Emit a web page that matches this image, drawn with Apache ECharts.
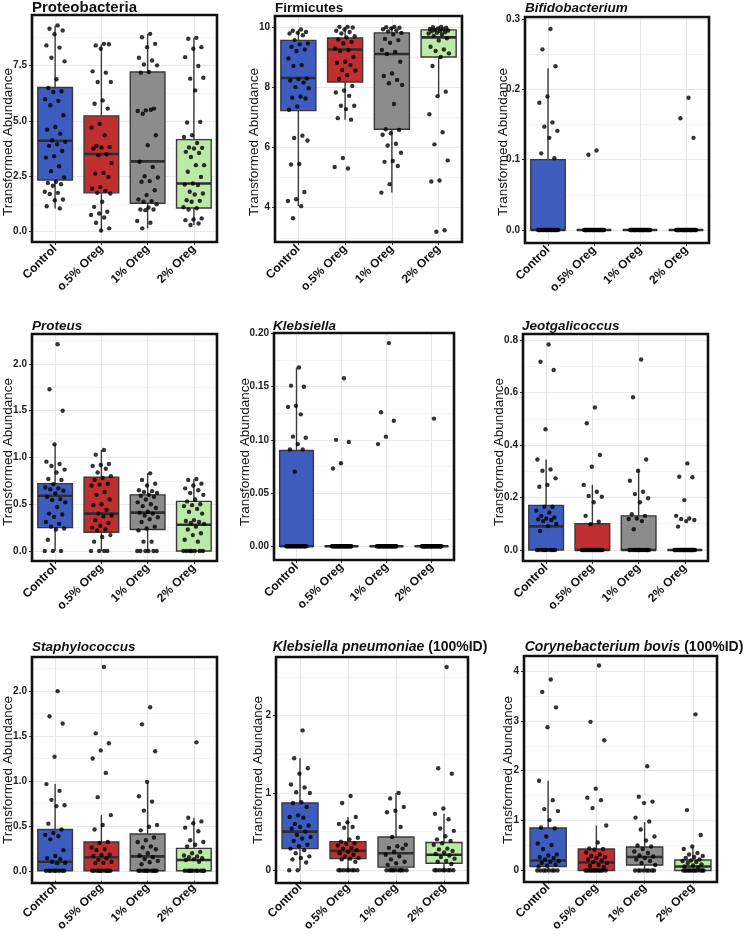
<!DOCTYPE html>
<html>
<head>
<meta charset="utf-8">
<script src="https://cdn.jsdelivr.net/npm/echarts@6/dist/echarts.min.js"></script>
<style>
html,body{margin:0;padding:0;background:#fff;}
#chart{width:745px;height:934px;}
</style>
</head>
<body>
<div id="chart"></div>
<script>
// ---------- DATA ----------
const categories = ['Control', 'o.5% Oreg', '1% Oreg', '2% Oreg'];

// box stats per group: [lower whisker, Q1, median, Q3, upper whisker]
const proteobacteriaBox = [[1.05, 2.33, 4.1, 6.5, 9.3], [0, 1.75, 3.5, 5.22, 8.45], [0.15, 1.28, 3.17, 7.2, 8.92], [0.3, 1.07, 2.17, 4.15, 8.74]];
const proteobacteriaPts = [
  [9.3, 9.15, 9.07, 8.9, 8.4, 8.3, 7.84, 7.68, 6.87, 6.48, 6.33, 6.3, 5.97, 5.9, 5.7, 5.25, 4.72, 4.6, 4.42, 4.12, 4.05, 3.94, 3.87, 3.64, 3.4, 3.34, 2.95, 2.73, 2.44, 2.25, 2.2, 2.14, 2.07, 1.8, 1.75, 1.7, 1.45, 1.42, 1.15, 1.05],
  [8.47, 8.4, 8.45, 8.25, 7.23, 7.17, 6.75, 6.75, 5.92, 5.77, 5.55, 4.87, 4.69, 4.35, 3.87, 3.82, 3.8, 3.75, 3.49, 3.45, 3.1, 2.65, 2.62, 2.47, 2.02, 1.95, 1.84, 1.75, 1.72, 1.35, 1.12, 0.9, 0.82, 0.75, 0.64, 0.4, 0.15, 0.05],
  [8.92, 8.77, 8.47, 8.32, 7.84, 7.72, 7.54, 7.5, 7.2, 7.17, 5.55, 5.47, 5.44, 5.5, 5.32, 4.35, 3.9, 3.15, 2.92, 2.5, 2.44, 2.28, 2.25, 1.87, 1.65, 1.45, 1.38, 1.35, 1.24, 1.09, 1.0, 1.0, 0.97, 0.48, 0.4, 0.15],
  [8.74, 8.7, 8.32, 8.25, 7.87, 7.47, 6.9, 6.94, 6.37, 4.92, 4.95, 4.35, 4.27, 4.0, 3.8, 3.78, 3.75, 3.6, 3.55, 3.37, 3.0, 3.0, 2.7, 2.47, 2.17, 2.13, 2.1, 1.8, 1.72, 1.68, 1.42, 1.39, 1.35, 1.1, 1.06, 1.0, 0.6, 0.55, 0.52, 0.37, 0.3]
];

const firmicutesBox = [[4.05, 7.22, 8.3, 9.55, 9.91], [6.92, 8.17, 9.25, 9.63, 10.0], [4.5, 6.6, 9.1, 9.8, 10.0], [7.7, 9.0, 9.65, 9.9, 10.0]];
const firmicutesPts = [
  [9.91, 9.87, 9.83, 9.8, 9.78, 9.72, 9.56, 9.45, 9.42, 9.34, 9.25, 9.2, 8.95, 8.73, 8.7, 8.29, 8.26, 8.22, 8.15, 8.0, 7.96, 7.69, 7.65, 7.62, 7.36, 7.25, 6.39, 6.31, 6.23, 5.45, 5.43, 4.52, 4.28, 4.22, 4.05, 3.65],
  [10.0, 10.0, 9.98, 9.91, 9.87, 9.83, 9.78, 9.69, 9.65, 9.58, 9.5, 9.45, 9.28, 9.23, 9.2, 9.0, 8.84, 8.81, 8.73, 8.57, 8.55, 8.4, 8.27, 8.04, 7.89, 7.82, 7.71, 7.38, 7.38, 7.27, 6.97, 6.92, 5.65, 5.35, 5.3],
  [10.0, 9.99, 9.97, 9.95, 9.92, 9.88, 9.85, 9.8, 9.75, 9.6, 9.56, 9.47, 9.23, 9.17, 9.1, 8.84, 8.45, 8.37, 8.24, 8.13, 8.07, 7.44, 6.6, 6.58, 6.47, 6.42, 6.12, 6.06, 5.82, 5.55, 5.52, 5.38, 4.78, 4.5],
  [10.0, 9.99, 9.97, 9.95, 9.93, 9.92, 9.9, 9.88, 9.86, 9.85, 9.82, 9.8, 9.78, 9.75, 9.7, 9.62, 9.55, 9.34, 9.25, 9.2, 9.12, 9.0, 8.7, 7.85, 7.7, 7.1, 6.5, 6.1, 5.57, 4.9, 4.87, 3.25, 3.2]
];

const bifidoBox = [[0, 0, 0, 0.1, 0.23], [0, 0, 0, 0, 0], [0, 0, 0, 0, 0], [0, 0, 0, 0, 0]];
const bifidoPts = [
  [0.286, 0.257, 0.233, 0.19, 0.181, 0.153, 0.147, 0.141, 0.131, 0.109, 0.102, 0, 0, 0, 0, 0, 0, 0, 0, 0, 0, 0, 0, 0, 0, 0, 0, 0, 0, 0, 0, 0, 0],
  [0.113, 0.107, 0, 0, 0, 0, 0, 0, 0, 0, 0, 0, 0, 0, 0, 0, 0, 0, 0, 0, 0, 0, 0, 0, 0, 0, 0, 0, 0, 0, 0, 0],
  [0, 0, 0, 0, 0, 0, 0, 0, 0, 0, 0, 0, 0, 0, 0, 0, 0, 0, 0, 0, 0, 0, 0, 0, 0, 0, 0, 0, 0, 0],
  [0.188, 0.159, 0.131, 0, 0, 0, 0, 0, 0, 0, 0, 0, 0, 0, 0, 0, 0, 0, 0, 0, 0, 0, 0, 0, 0, 0, 0, 0, 0, 0, 0, 0, 0]
];

const proteusBox = [[0, 0.25, 0.59, 0.72, 1.14], [0, 0.2, 0.4, 0.79, 1.08], [0, 0.23, 0.41, 0.6, 0.83], [0, 0, 0.28, 0.53, 0.77]];
const proteusPts = [
  [2.21, 1.73, 1.5, 1.14, 0.955, 0.93, 0.91, 0.87, 0.84, 0.77, 0.76, 0.715, 0.68, 0.67, 0.66, 0.645, 0.615, 0.58, 0.555, 0.545, 0.52, 0.47, 0.4, 0.39, 0.365, 0.31, 0.29, 0.26, 0.24, 0.23, 0.12, 0, 0, 0],
  [1.08, 1.03, 0.93, 0.92, 0.91, 0.88, 0.84, 0.8, 0.78, 0.76, 0.72, 0.71, 0.7, 0.63, 0.6, 0.55, 0.5, 0.49, 0.44, 0.4, 0.38, 0.37, 0.33, 0.3, 0.27, 0.25, 0.23, 0.22, 0.17, 0.15, 0.1, 0, 0, 0, 0],
  [0.83, 0.76, 0.72, 0.7, 0.65, 0.64, 0.63, 0.62, 0.6, 0.59, 0.58, 0.55, 0.52, 0.5, 0.48, 0.46, 0.42, 0.41, 0.4, 0.38, 0.36, 0.34, 0.31, 0.26, 0.24, 0.22, 0.1, 0.1, 0, 0, 0, 0, 0, 0],
  [0.77, 0.76, 0.72, 0.7, 0.67, 0.65, 0.62, 0.6, 0.55, 0.53, 0.5, 0.49, 0.48, 0.45, 0.42, 0.4, 0.33, 0.32, 0.31, 0.3, 0.29, 0.26, 0.23, 0.19, 0.17, 0.12, 0.1, 0, 0, 0, 0, 0, 0, 0]
];

const klebsiellaBox = [[0, 0, 0, 0.09, 0.168], [0, 0, 0, 0, 0], [0, 0, 0, 0, 0], [0, 0, 0, 0, 0]];
const klebsiellaPts = [
  [0.168, 0.151, 0.15, 0.132, 0.131, 0.124, 0.103, 0.102, 0.096, 0.091, 0.091, 0.07, 0, 0, 0, 0, 0, 0, 0, 0, 0, 0, 0, 0, 0, 0, 0, 0, 0, 0, 0, 0, 0, 0],
  [0.158, 0.1, 0.098, 0.078, 0.073, 0, 0, 0, 0, 0, 0, 0, 0, 0, 0, 0, 0, 0, 0, 0, 0, 0, 0, 0, 0, 0, 0, 0, 0, 0, 0, 0, 0],
  [0.191, 0.126, 0.118, 0.103, 0.096, 0, 0, 0, 0, 0, 0, 0, 0, 0, 0, 0, 0, 0, 0, 0, 0, 0, 0, 0, 0, 0, 0, 0, 0, 0, 0, 0, 0],
  [0.12, 0, 0, 0, 0, 0, 0, 0, 0, 0, 0, 0, 0, 0, 0, 0, 0, 0, 0, 0, 0, 0, 0, 0, 0, 0, 0, 0, 0, 0, 0]
];

const jeotgaliBox = [[0, 0, 0.09, 0.17, 0.345], [0, 0, 0, 0.1, 0.248], [0, 0, 0, 0.13, 0.302], [0, 0, 0, 0, 0]];
const jeotgaliPts = [
  [0.783, 0.717, 0.686, 0.46, 0.345, 0.307, 0.302, 0.273, 0.248, 0.241, 0.165, 0.165, 0.15, 0.143, 0.13, 0.124, 0.12, 0.117, 0.114, 0.11, 0.099, 0.091, 0.072, 0, 0, 0, 0, 0, 0, 0, 0, 0, 0],
  [0.543, 0.483, 0.362, 0.317, 0.248, 0.222, 0.206, 0.203, 0.182, 0.13, 0.108, 0.098, 0, 0, 0, 0, 0, 0, 0, 0, 0, 0, 0, 0, 0, 0, 0, 0, 0, 0, 0, 0, 0, 0],
  [0.726, 0.582, 0.345, 0.302, 0.264, 0.222, 0.213, 0.197, 0.182, 0.136, 0.13, 0.12, 0.118, 0.11, 0.079, 0, 0, 0, 0, 0, 0, 0, 0, 0, 0, 0, 0, 0, 0, 0],
  [0.33, 0.279, 0.277, 0.19, 0.13, 0.12, 0.118, 0.114, 0.11, 0.089, 0, 0, 0, 0, 0, 0, 0, 0, 0, 0, 0, 0, 0, 0, 0, 0, 0, 0, 0, 0, 0, 0, 0, 0, 0, 0, 0, 0]
];

const staphBox = [[0, 0, 0.1, 0.46, 0.965], [0, 0, 0.15, 0.32, 0.62], [0, 0, 0.16, 0.41, 0.99], [0, 0, 0.12, 0.25, 0.59]];
const staphPts = [
  [2.0, 1.72, 1.64, 1.27, 0.965, 0.89, 0.79, 0.73, 0.72, 0.525, 0.46, 0.42, 0.4, 0.385, 0.35, 0.23, 0.165, 0.14, 0.13, 0.1, 0.09, 0.085, 0, 0, 0, 0, 0, 0, 0, 0],
  [2.27, 1.53, 1.42, 1.34, 1.25, 1.09, 0.82, 0.62, 0.51, 0.46, 0.32, 0.31, 0.26, 0.24, 0.23, 0.18, 0.175, 0.165, 0.14, 0.12, 0.1, 0.09, 0.085, 0, 0, 0, 0, 0, 0, 0, 0, 0, 0],
  [1.82, 1.63, 1.33, 0.99, 0.83, 0.77, 0.67, 0.51, 0.49, 0.45, 0.37, 0.34, 0.32, 0.27, 0.26, 0.24, 0.195, 0.17, 0.15, 0.13, 0.11, 0.095, 0.073, 0, 0, 0, 0, 0, 0, 0, 0, 0, 0],
  [1.43, 0.59, 0.55, 0.53, 0.48, 0.44, 0.34, 0.32, 0.29, 0.27, 0.21, 0.195, 0.17, 0.16, 0.15, 0.14, 0.13, 0.12, 0.1, 0, 0, 0, 0, 0, 0, 0, 0, 0, 0]
];

const kpneuBox = [[0, 0.28, 0.5, 0.87, 1.45], [0, 0.15, 0.25, 0.37, 0.69], [0, 0.04, 0.22, 0.43, 1.0], [0, 0.09, 0.2, 0.36, 0.73]];
const kpneuPts = [
  [1.81, 1.45, 1.32, 1.25, 1.11, 1.07, 1.01, 1.0, 0.88, 0.87, 0.82, 0.71, 0.69, 0.68, 0.6, 0.58, 0.56, 0.54, 0.5, 0.46, 0.43, 0.41, 0.38, 0.33, 0.31, 0.28, 0.26, 0.22, 0.18, 0.16, 0.14, 0.1, 0, 0],
  [0.96, 0.87, 0.69, 0.62, 0.6, 0.56, 0.55, 0.42, 0.4, 0.37, 0.35, 0.34, 0.32, 0.29, 0.28, 0.26, 0.24, 0.22, 0.2, 0.18, 0.16, 0.15, 0.14, 0.11, 0, 0, 0, 0, 0, 0, 0, 0],
  [1.0, 0.93, 0.82, 0.77, 0.75, 0.56, 0.43, 0.33, 0.31, 0.29, 0.28, 0.24, 0.2, 0.18, 0.14, 0.11, 0.09, 0.07, 0, 0, 0, 0, 0, 0, 0, 0, 0, 0],
  [2.63, 1.32, 1.25, 0.8, 0.73, 0.66, 0.54, 0.51, 0.44, 0.4, 0.38, 0.35, 0.33, 0.28, 0.27, 0.25, 0.23, 0.21, 0.19, 0.17, 0.15, 0.12, 0.11, 0.08, 0, 0, 0, 0, 0, 0, 0, 0]
];

const cbovisBox = [[0, 0.08, 0.2, 0.85, 1.8], [0, 0, 0.16, 0.43, 0.9], [0, 0.11, 0.27, 0.47, 0.97], [0, 0, 0.08, 0.21, 0.46]];
const cbovisPts = [
  [3.83, 3.58, 3.27, 2.87, 1.8, 1.41, 1.23, 1.19, 1.01, 0.86, 0.84, 0.68, 0.54, 0.51, 0.43, 0.32, 0.3, 0.27, 0.25, 0.22, 0.19, 0.17, 0.15, 0.12, 0.1, 0.08, 0, 0, 0, 0, 0, 0, 0, 0],
  [4.11, 2.98, 2.61, 1.64, 1.46, 1.41, 1.25, 0.9, 0.56, 0.44, 0.43, 0.42, 0.36, 0.32, 0.29, 0.27, 0.25, 0.22, 0.2, 0.17, 0.15, 0.11, 0.09, 0.07, 0, 0, 0, 0, 0, 0, 0, 0, 0, 0, 0, 0],
  [2.09, 1.48, 1.38, 1.35, 1.06, 0.98, 0.82, 0.68, 0.6, 0.5, 0.48, 0.43, 0.38, 0.35, 0.3, 0.28, 0.25, 0.22, 0.19, 0.15, 0.11, 0, 0, 0, 0, 0, 0, 0, 0],
  [3.13, 1.21, 0.71, 0.48, 0.43, 0.35, 0.32, 0.29, 0.27, 0.25, 0.22, 0.2, 0.19, 0.17, 0.15, 0.12, 0.1, 0.08, 0.06, 0, 0, 0, 0, 0, 0, 0, 0, 0, 0, 0, 0]
];

// axis tick labels per panel
const proteobacteriaTicks = [0, 2.5, 5, 7.5];
const firmicutesTicks = [4, 6, 8, 10];
const bifidoTicks = [0, 0.1, 0.2, 0.3];
const proteusTicks = [0, 0.5, 1, 1.5, 2];
const klebsiellaTicks = [0, 0.05, 0.1, 0.15, 0.2];
const jeotgaliTicks = [0, 0.2, 0.4, 0.6, 0.8];
const staphTicks = [0, 0.5, 1, 1.5, 2];
const kpneuTicks = [0, 1, 2];
const cbovisTicks = [0, 1, 2, 3, 4];

// ---------- STYLE / LAYOUT ----------
const boxColors = ['#3E5BBE', '#BF2F2F', '#8C8C8C', '#BDE9A8'];
const FONT = "'Liberation Sans', Arial, Helvetica, sans-serif";

const panels = [
  { title: [['Proteobacteria', 'normal']], tSize: 15, tx: 32, ty: 8, tAlign: 'left', box: proteobacteriaBox, pts: proteobacteriaPts, ticks: proteobacteriaTicks, dec: 1, min: -0.465, max: 9.77, g: { left: 32, top: 15, width: 185, height: 227 }, yt: [8, 142] },
  { title: [['Firmicutes', 'normal']], tSize: 13.5, tx: 275, ty: 8.5, tAlign: 'left', box: firmicutesBox, pts: firmicutesPts, ticks: firmicutesTicks, dec: 0, min: 2.86, max: 10.36, g: { left: 275, top: 16, width: 187, height: 226 }, yt: [254, 142] },
  { title: [['Bifidobacterium', 'italic']], tSize: 13.5, tx: 525, ty: 8.5, tAlign: 'left', box: bifidoBox, pts: bifidoPts, ticks: bifidoTicks, dec: 1, min: -0.0186, max: 0.303, g: { left: 525, top: 17, width: 184, height: 226 }, yt: [503, 142] },
  { title: [['Proteus', 'italic']], tSize: 13.5, tx: 32, ty: 326, tAlign: 'left', box: proteusBox, pts: proteusPts, ticks: proteusTicks, dec: 1, min: -0.107, max: 2.32, g: { left: 32, top: 334, width: 185, height: 227 }, yt: [8, 452] },
  { title: [['Klebsiella', 'italic']], tSize: 13.5, tx: 273, ty: 326, tAlign: 'left', box: klebsiellaBox, pts: klebsiellaPts, ticks: klebsiellaTicks, dec: 2, min: -0.013, max: 0.2005, g: { left: 274, top: 333, width: 180, height: 227 }, yt: [245, 452] },
  { title: [['Jeotgalicoccus', 'italic']], tSize: 13.5, tx: 522, ty: 326, tAlign: 'left', box: jeotgaliBox, pts: jeotgaliPts, ticks: jeotgaliTicks, dec: 1, min: -0.042, max: 0.823, g: { left: 523, top: 334, width: 185, height: 227 }, yt: [499, 452] },
  { title: [['Staphylococcus', 'italic']], tSize: 13.5, tx: 32, ty: 647, tAlign: 'left', box: staphBox, pts: staphPts, ticks: staphTicks, dec: 1, min: -0.11, max: 2.38, g: { left: 32, top: 657, width: 185, height: 226 }, yt: [8, 770] },
  { title: [['Klebsiella pneumoniae', 'italic'], [' (100%ID)', 'normal']], tSize: 14, tx: 380, ty: 647, tAlign: 'center', box: kpneuBox, pts: kpneuPts, ticks: kpneuTicks, dec: 0, min: -0.135, max: 2.76, g: { left: 276, top: 657, width: 192, height: 226 }, yt: [258, 770] },
  { title: [['Corynebacterium bovis', 'italic'], [' (100%ID)', 'normal']], tSize: 14, tx: 634, ty: 647, tAlign: 'center', box: cbovisBox, pts: cbovisPts, ticks: cbovisTicks, dec: 0, min: -0.205, max: 4.3, g: { left: 524, top: 656, width: 193, height: 226 }, yt: [508, 770] }
];

// horizontal jitter spread (visual only, deterministic)
function jitter(k) {
  return (((k + 1) * 0.6180339887) % 1 - 0.5) * 0.46;
}

function minorTicks(ticks, min, max) {
  const step = ticks[1] - ticks[0];
  const out = [];
  for (let k = -1; k < ticks.length; k++) {
    const v = +(ticks[0] + step * (k + 0.5)).toFixed(6);
    if (v > min && v < max) out.push(v);
  }
  return out;
}

const option = {
  animation: false,
  backgroundColor: '#ffffff',
  grid: [], xAxis: [], yAxis: [], series: [], graphic: []
};

panels.forEach((p, i) => {
  option.grid.push({ left: p.g.left, top: p.g.top, width: p.g.width, height: p.g.height, show: true, backgroundColor: '#ffffff', borderWidth: 0 });
  // category axis (labels)
  option.xAxis.push({
    type: 'category', gridIndex: i, data: categories, position: 'bottom',
    axisLine: { show: false, onZero: false },
    axisTick: { show: true, alignWithLabel: true, length: 3, lineStyle: { color: '#333', width: 1 } },
    axisLabel: { interval: 0, rotate: 45, margin: 5, fontFamily: FONT, fontWeight: 'bold', fontSize: 12, color: '#111' },
    splitLine: { show: false }
  });
  // value x axis for jittered points / boxes
  option.xAxis.push({
    type: 'value', gridIndex: i, min: -0.5, max: 3.5, position: 'bottom',
    axisLine: { show: false, onZero: false }, axisLabel: { show: false },
    axisTick: { show: false, customValues: [0, 1, 2, 3] },
    splitLine: { show: true, lineStyle: { color: '#E8E8E8', width: 1 } }
  });
  // major y axis
  option.yAxis.push({
    type: 'value', gridIndex: i, min: p.min, max: p.max, position: 'left',
    axisLine: { show: false, onZero: false },
    axisTick: { show: true, length: 3, customValues: p.ticks, lineStyle: { color: '#333', width: 1 } },
    axisLabel: { show: true, margin: 5, customValues: p.ticks, fontFamily: FONT, fontWeight: 'bold', fontSize: 10, color: '#222', formatter: v => Number(v).toFixed(p.dec) },
    splitLine: { show: true, lineStyle: { color: '#E8E8E8', width: 1 } }
  });
  // minor y grid
  option.yAxis.push({
    type: 'value', gridIndex: i, min: p.min, max: p.max, position: 'left',
    axisLine: { show: false, onZero: false }, axisLabel: { show: false },
    axisTick: { show: false, customValues: minorTicks(p.ticks, p.min, p.max) },
    splitLine: { show: true, lineStyle: { color: '#F3F3F3', width: 0.8 } }
  });

  // boxes
  option.series.push({
    type: 'custom', xAxisIndex: 2 * i + 1, yAxisIndex: 2 * i, z: 3,
    data: p.box.map((b, c) => [c].concat(b)),
    encode: { x: 0, y: [1, 2, 3, 4, 5] },
    renderItem: function (params, api) {
      const c = api.value(0);
      const band = api.size([1, 0])[0];
      const w = band * 0.75;
      const pMin = api.coord([c, api.value(1)]);
      const pQ1 = api.coord([c, api.value(2)]);
      const pMed = api.coord([c, api.value(3)]);
      const pQ3 = api.coord([c, api.value(4)]);
      const pMax = api.coord([c, api.value(5)]);
      const cx = pMin[0];
      const ls = { stroke: '#3a3a3a', lineWidth: 1.4 };
      return {
        type: 'group',
        children: [
          { type: 'line', shape: { x1: cx, y1: pMax[1], x2: cx, y2: pQ3[1] }, style: ls },
          { type: 'line', shape: { x1: cx, y1: pQ1[1], x2: cx, y2: pMin[1] }, style: ls },
          { type: 'rect', shape: { x: cx - w / 2, y: pQ3[1], width: w, height: pQ1[1] - pQ3[1] }, style: { fill: boxColors[c], stroke: '#3a3a3a', lineWidth: 1.4 } },
          { type: 'line', shape: { x1: cx - w / 2, y1: pMed[1], x2: cx + w / 2, y2: pMed[1] }, style: { stroke: '#2e2e2e', lineWidth: 2.6 } }
        ]
      };
    }
  });

  // jittered points
  const sdata = [];
  p.pts.forEach((grp, c) => {
    grp.forEach((v, k) => { sdata.push([c + jitter(k), v]); });
  });
  option.series.push({
    type: 'scatter', xAxisIndex: 2 * i + 1, yAxisIndex: 2 * i, z: 5,
    symbol: 'circle', symbolSize: 4.4,
    itemStyle: { color: '#000000' },
    data: sdata, silent: true
  });

  // panel border
  option.graphic.push({
    type: 'rect', z: 100, silent: true,
    shape: { x: p.g.left, y: p.g.top, width: p.g.width, height: p.g.height },
    style: { fill: 'none', stroke: '#111', lineWidth: 2.6 }
  });

  // title
  const rich = {
    it: { fontStyle: 'italic', fontWeight: 'bold', fontSize: p.tSize, fontFamily: FONT, fill: '#111', color: '#111' },
    nm: { fontStyle: 'normal', fontWeight: 'bold', fontSize: p.tSize, fontFamily: FONT, fill: '#111', color: '#111' }
  };
  const txt = p.title.map(t => '{' + (t[1] === 'italic' ? 'it' : 'nm') + '|' + t[0] + '}').join('');
  option.graphic.push({
    type: 'text', z: 100, silent: true, x: p.tx, y: p.ty,
    style: { text: txt, rich: rich, textAlign: p.tAlign, textVerticalAlign: 'middle', fill: '#111', font: 'bold ' + p.tSize + 'px ' + FONT }
  });

  // y axis title
  option.graphic.push({
    type: 'text', z: 100, silent: true, x: p.yt[0], y: p.yt[1], rotation: Math.PI / 2,
    style: { text: 'Transformed Abundance', textAlign: 'center', textVerticalAlign: 'middle', fill: '#111', font: '13.5px ' + FONT }
  });
});

const chart = echarts.init(document.getElementById('chart'), null, { renderer: 'canvas', width: 745, height: 934 });
chart.setOption(option);
</script>
</body>
</html>
